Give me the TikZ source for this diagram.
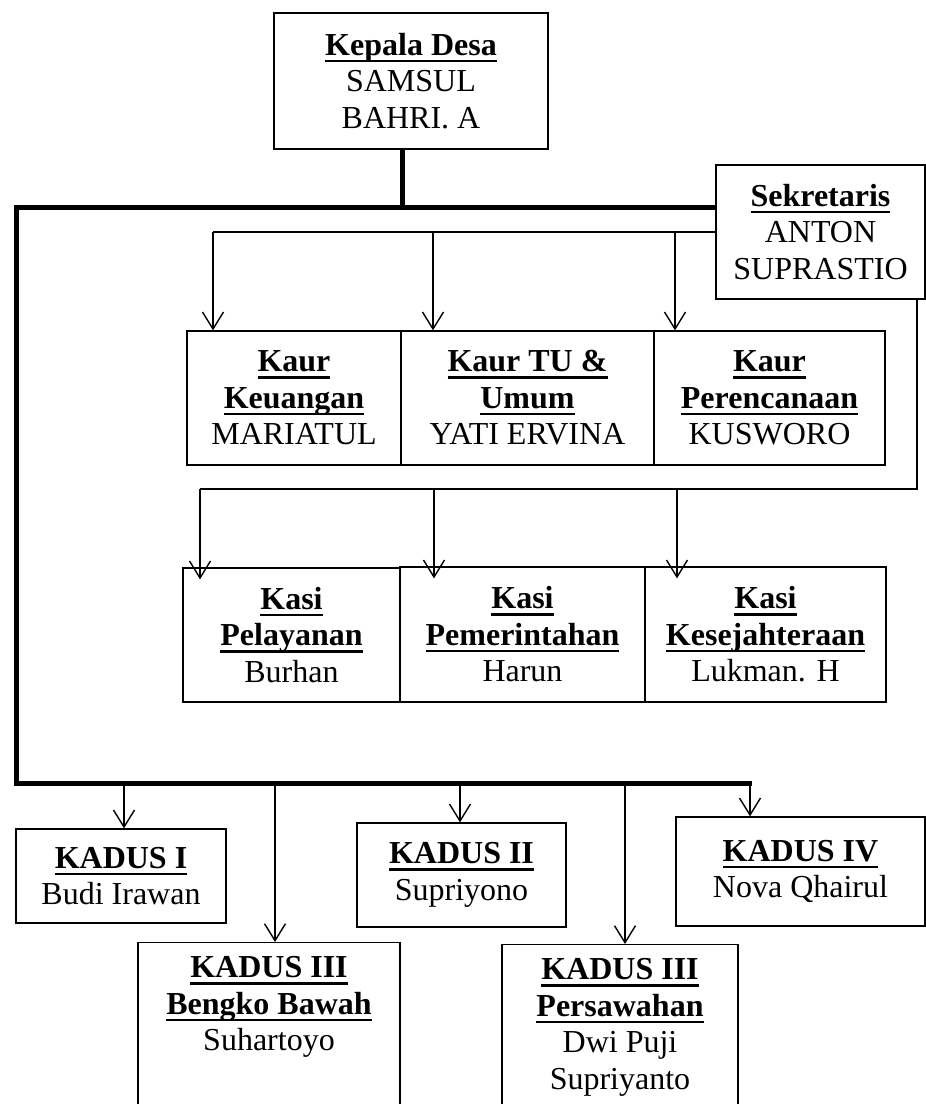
\documentclass[tikz,border=0pt]{standalone}
\usepackage{fontspec}
\setmainfont{Liberation Serif}
\usetikzlibrary{arrows.meta}
\newcommand{\jdl}[1]{\setbox0\hbox{\textbf{#1}}\rlap{\rule[-7pt]{\wd0}{2.6pt}}\box0}

\begin{document}
\begin{tikzpicture}[x=1pt,y=-1pt,
  kotak/.style={draw,line width=1.3pt,align=center,inner sep=0pt,font=\fontsize{32}{36.5}\selectfont},
  tebal/.style={line width=5pt},
  tipis/.style={line width=1.4pt},
  panah/.style={tipis,-{Straight Barb[length=17pt,width=21pt,line width=1.4pt]}}]
\useasboundingbox (0,0) rectangle (926,1104);

% kepala desa, sekretaris
\node[kotak,minimum width=274pt,minimum height=136pt] (kades) at (411,81) {\jdl{Kepala Desa}\\SAMSUL\\BAHRI. A};
\node[kotak,minimum width=209pt,minimum height=134pt] (sekdes) at (820.5,232) {\jdl{Sekretaris}\\ANTON\\SUPRASTIO};

% kaur
\node[kotak,minimum width=214pt,minimum height=134pt] (kaur1) at (294,398) {\jdl{Kaur}\\\jdl{Keuangan}\\MARIATUL};
\node[kotak,minimum width=253pt,minimum height=134pt] (kaur2) at (527.5,398) {\jdl{Kaur TU \&}\\\jdl{Umum}\\YATI ERVINA};
\node[kotak,minimum width=231pt,minimum height=134pt] (kaur3) at (769.5,398) {\jdl{Kaur}\\\jdl{Perencanaan}\\KUSWORO};

% kasi
\node[kotak,minimum width=217pt,minimum height=134pt] (kasi1) at (291.5,635) {\jdl{Kasi}\\\jdl{Pelayanan}\\Burhan};
\node[kotak,minimum width=245pt,minimum height=135pt] (kasi2) at (522.5,634.5) {\jdl{Kasi}\\\jdl{Pemerintahan}\\Harun};
\node[kotak,minimum width=241pt,minimum height=135pt] (kasi3) at (765.5,634.5) {\jdl{Kasi}\\\jdl{Kesejahteraan}\\Lukman. H};

% kadus
\node[kotak,minimum width=210pt,minimum height=94pt] (kadus1) at (121,876) {\jdl{KADUS I}\\Budi Irawan};
\node[kotak,minimum width=209pt,minimum height=104pt] (kadus2) at (461.5,875) {\jdl{KADUS II}\\Supriyono};
\node[kotak,minimum width=249pt,minimum height=109pt] (kadus4) at (800.5,871.5) {\jdl{KADUS IV}\\Nova Qhairul};
\node[kotak,anchor=north,minimum width=262pt,inner ysep=14pt] (kadus3a) at (269,942) {\jdl{KADUS III}\\\jdl{Bengko Bawah}\\Suhartoyo\\\strut\\\strut\\\strut};
\node[kotak,anchor=north,minimum width=236pt,inner ysep=14pt] (kadus3b) at (620,944) {\jdl{KADUS III}\\\jdl{Persawahan}\\Dwi Puji\\Supriyanto\\\strut\\\strut};

% garis tebal
\coordinate (tengah) at (402,207);
\coordinate (kiriatas) at (16,207);
\coordinate (kiribawah) at (16,783);
\coordinate (kananbawah) at (752,783);
\draw[tebal] (tengah |- kades.south) -- (tengah);
\draw[tebal] (sekdes.west |- kiriatas) -- (kiriatas) -- (kiribawah) -- (kananbawah);

% sekretaris ke kaur
\coordinate (garis1) at (213,232);
\draw[tipis] (sekdes.west |- garis1) -- (garis1);
\foreach \x/\k in {213/kaur1,433/kaur2,675/kaur3}{
  \coordinate (t\k) at (\x,232);
  \draw[panah] (t\k) -- (t\k |- \k.north);
}

% sekretaris ke kasi
\coordinate (siku) at (917,489);
\coordinate (garis2) at (200,489);
\draw[tipis] (siku |- sekdes.south) -- (siku) -- (garis2);
\foreach \x/\k in {200/kasi1,434/kasi2,677/kasi3}{
  \coordinate (t\k) at (\x,489);
  \draw[panah] (t\k) -- ([yshift=-12pt]t\k |- \k.north);
}

% kepala desa ke kadus
\foreach \x/\k in {124/kadus1,275/kadus3a,460/kadus2,625/kadus3b,750/kadus4}{
  \coordinate (t\k) at (\x,783);
  \draw[panah] (t\k) -- (t\k |- \k.north);
}
\end{tikzpicture}
\end{document}
